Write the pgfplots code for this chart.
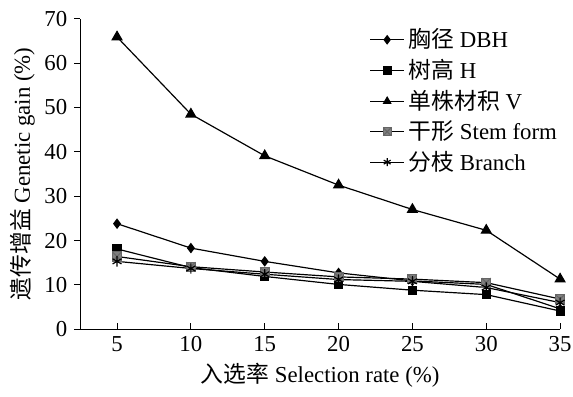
\documentclass[border=0pt]{standalone}
\usepackage{fontspec}
\setmainfont{Liberation Serif}
\newfontfamily\cjk{Noto Sans CJK SC}
\usepackage{pgfplots}
\pgfplotsset{compat=1.18}
\pgfdeclareplotmark{sqx}{%
  \pgfpathrectangle{\pgfpoint{-\pgfplotmarksize}{-\pgfplotmarksize}}{\pgfpoint{2\pgfplotmarksize}{2\pgfplotmarksize}}%
  \pgfsetfillcolor{gray}\pgfsetstrokecolor{black!60}\pgfusepathqfillstroke
  \pgfpathmoveto{\pgfpoint{-\pgfplotmarksize}{-\pgfplotmarksize}}\pgfpathlineto{\pgfpoint{\pgfplotmarksize}{\pgfplotmarksize}}%
  \pgfpathmoveto{\pgfpoint{-\pgfplotmarksize}{\pgfplotmarksize}}\pgfpathlineto{\pgfpoint{\pgfplotmarksize}{-\pgfplotmarksize}}%
  \pgfusepathqstroke}
\begin{document}
\begin{tikzpicture}
\begin{axis}[
  scale only axis, width=242pt, height=156.5pt,
  xmin=2.5, xmax=35, ymin=0, ymax=70,
  xtick={5,10,...,35}, ytick={0,10,...,70},
  axis lines=left, axis line style={-, black, line width=0.6pt},
  x tick style={black, line width=0.5pt}, y tick style={black, line width=0.5pt},
  xtick align=inside, ytick align=outside,
  major tick length=3pt,
  tick label style={font=\fontsize{11.5}{13}\selectfont},
  /pgf/number format/assume math mode=true,
  xlabel={{\cjk 入选率} Selection rate (\%)},
  ylabel={{\cjk 遗传增益} Genetic gain (\%)},
  label style={font=\fontsize{11.5}{13}\selectfont},
  xlabel style={yshift=1pt},
  ylabel style={yshift=-2pt},
  legend style={draw=none, fill=none, at={(0.59,0.995)}, anchor=north west, font=\fontsize{11.5}{13}\selectfont, row sep=0.3pt, cells={anchor=west}},
  legend image post style={mark size=2pt},
  every axis plot/.append style={black, line width=0.6pt},
  clip=false,
]
\addplot[mark=diamond*, mark size=2.2pt] coordinates {(5,23.8) (10,18.3) (15,15.3) (20,12.7) (25,10.9) (30,10.1) (35,4.6)};
\addlegendentry{{\cjk 胸径} DBH}
\addplot[mark=square*, mark size=2pt] coordinates {(5,18.1) (10,13.9) (15,11.9) (20,10.1) (25,8.8) (30,7.8) (35,4.1)};
\addlegendentry{{\cjk 树高} H}
\addplot[mark=triangle*, mark size=2.8pt] coordinates {(5,65.9) (10,48.5) (15,39.1) (20,32.5) (25,27.0) (30,22.3) (35,11.3)};
\addlegendentry{{\cjk 单株材积} V}
\addplot[mark=sqx, mark size=2.3pt, mark options={line width=0.5pt}] coordinates {(5,16.4) (10,14.1) (15,12.9) (20,11.8) (25,11.3) (30,10.5) (35,6.8)};
\addlegendentry{{\cjk 干形} Stem form}
\addplot[mark=asterisk, mark size=2.6pt] coordinates {(5,15.3) (10,13.7) (15,12.4) (20,11.2) (25,10.8) (30,9.4) (35,6.0)};
\addlegendentry{{\cjk 分枝} Branch}
\end{axis}
\pgfresetboundingbox
\path ([xshift=-2pt,yshift=-1pt]current axis.outer south west) rectangle ([xshift=6.5pt,yshift=9.5pt]current axis.north east);
\end{tikzpicture}
\end{document}
